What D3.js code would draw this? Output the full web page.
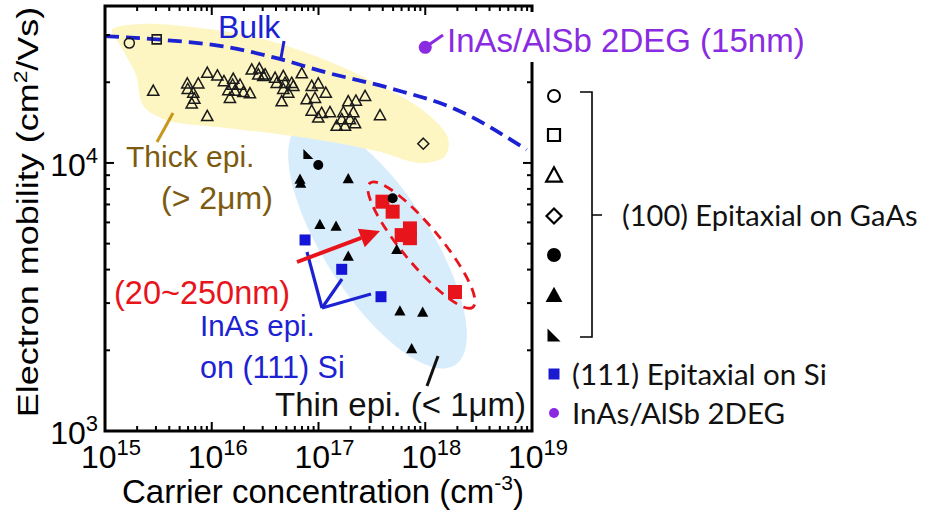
<!DOCTYPE html>
<html>
<head>
<meta charset="utf-8">
<script src="https://cdn.jsdelivr.net/npm/d3@7"></script>
<style>
  html, body { margin: 0; padding: 0; background: #fff; }
  svg { display: block; }
</style>
</head>
<body>
<svg id="chart" width="935" height="514"></svg>
<script>
// ---- Data: [carrier concentration (cm^-3), electron mobility (cm^2/Vs)] ----

// Thick epitaxial layers (> 2 um) on (100) GaAs
const openCircle  = [[1.69e15, 2.80e4]];
const openSquare  = [[3.05e15, 2.89e4]];
const openDiamond = [[9.59e17, 1.18e4]];
const openTriangles = [
  [2.83e15, 1.85e4], [9.08e15, 2.16e4], [1.13e16, 2.11e4], [5.90e15, 1.97e4],
  [7.48e15, 1.97e4], [5.96e15, 1.88e4], [6.71e15, 1.82e4], [6.87e15, 1.73e4],
  [6.49e15, 1.66e4], [9.08e15, 1.49e4], [1.30e16, 2.01e4], [1.59e16, 2.05e4],
  [1.57e16, 1.95e4], [1.84e16, 1.95e4], [1.43e16, 1.86e4], [1.65e16, 1.85e4],
  [1.48e16, 1.74e4], [1.98e16, 1.83e4], [2.28e16, 1.81e4], [2.37e16, 2.22e4],
  [2.79e16, 2.24e4], [3.04e16, 2.10e4], [2.73e16, 2.13e4], [3.16e16, 2.13e4],
  [3.92e16, 2.07e4], [4.68e16, 2.10e4], [6.97e16, 2.15e4], [4.06e16, 1.98e4],
  [4.85e16, 1.98e4], [5.61e16, 1.98e4], [4.68e16, 1.88e4], [5.21e16, 1.82e4],
  [4.52e16, 1.69e4], [5.81e16, 1.93e4], [8.63e16, 1.93e4], [9.95e16, 1.97e4],
  [1.17e17, 1.82e4], [7.74e16, 1.72e4], [9.27e16, 1.74e4], [8.63e16, 1.56e4],
  [1.07e17, 1.53e4], [9.95e16, 1.47e4], [1.28e17, 1.54e4], [1.71e17, 1.54e4],
  [2.12e17, 1.54e4], [1.90e17, 1.69e4], [2.24e17, 1.70e4], [2.73e17, 1.77e4],
  [1.65e17, 1.45e4], [1.97e17, 1.45e4], [1.48e17, 1.37e4], [1.77e17, 1.37e4],
  [2.20e17, 1.40e4], [3.77e17, 1.50e4]
];

// Thin epitaxial layers (< 1 um) on (100) GaAs
const filledCircles   = [[9.95e16, 9.83e3], [4.95e17, 7.38e3]];
const filledCorner    = [[8.04e16, 1.08e4]];
const filledTriangles = [
  [6.71e16, 8.65e3], [6.81e16, 8.36e3], [1.90e17, 8.69e3], [1.03e17, 5.87e3],
  [1.46e17, 5.78e3], [5.41e17, 4.73e3], [1.90e17, 4.47e3], [5.79e17, 2.79e3],
  [9.46e17, 2.76e3], [7.46e17, 2.02e3]
];

// InAs on (111) Si
const siSquares  = [[7.48e16, 5.16e3], [1.65e17, 4.01e3], [3.85e17, 3.17e3]];
// InAs on (111) Si, 20~250 nm
const redSquares = [
  [3.97e17, 7.17e3], [4.95e17, 6.58e3], [7.19e17, 5.70e3],
  [7.19e17, 5.24e3], [6.01e17, 5.38e3], [1.90e18, 3.30e3]
];
// InAs/AlSb 2DEG (15 nm)
const twoDeg = [[1.0e18, 2.7e4]];

// Bulk InAs mobility curve
const bulkConc     = [1.0e15, 3.05e15, 1.28e16, 4.06e16, 1.11e17, 4.68e17, 1.97e18, 8.9e18];
const bulkMobility = [2.97e4, 2.89e4, 2.72e4, 2.46e4, 2.19e4, 1.90e4, 1.58e4, 1.12e4];

// Shaded regions
const thickRegion = [
  [1.16e15, 3.13e4], [2.13e15, 3.30e4], [7.76e15, 3.19e4], [2.83e16, 2.92e4],
  [1.03e17, 2.47e4], [3.77e17, 1.95e4], [9.95e17, 1.55e4], [1.63e18, 1.24e4],
  [1.53e18, 1.06e4], [8.93e17, 1.00e4], [3.77e17, 1.10e4], [1.28e17, 1.20e4],
  [4.36e16, 1.28e4], [1.19e16, 1.36e4], [3.65e15, 1.45e4], [2.27e15, 1.64e4],
  [1.95e15, 2.13e4], [1.38e15, 2.75e4]
];
const thinRegionEnds = [[6.71e16, 1.39e4], [1.90e18, 1.76e3]];
const thinSiEnds     = [[3.03e17, 8.41e3], [2.80e18, 2.90e3]];

// Axes
const xDecades = [15, 16, 17, 18, 19];
const yDecades = [3, 4];

// Legend
const legendGaAs = ["openCircle", "openSquare", "openTriangle", "openDiamond",
                    "filledCircle", "filledTriangle", "filledCorner"];
const legendLabels = ["(100) Epitaxial on GaAs", "(111) Epitaxial on Si", "InAs/AlSb 2DEG"];

// ---- Drawing ----
const svg = d3.select("#chart");
const L = 105, R = 532, T = 6, B = 431;
const x = d3.scaleLog().domain([1e15, 1e19]).range([L, R]);
const y = d3.scaleLog().domain([1e3, 3.85e4]).range([B, T]);

const FONT = "'Liberation Sans', Arial, Helvetica, sans-serif";
const LFONT = "Lato, 'Open Sans', sans-serif";
const BLUE = "#1c22d2", RED = "#e8141c", PURPLE = "#8a2be2", GOLD = "#7c5b10";

// shaped markers centred at 0,0
const shapes = {
  triangle: s => `M0,${-s * 0.62}L${s * 0.56},${s * 0.4}L${-s * 0.56},${s * 0.4}Z`,
  corner:   s => `M${-s / 2},${-s / 2}L${-s / 2},${s / 2}L${s / 2},${s / 2}Z`,
  diamond:  s => `M0,${-s / 2}L${s / 2},0L0,${s / 2}L${-s / 2},0Z`,
  square:   s => `M${-s / 2},${-s / 2}h${s}v${s}h${-s}Z`,
  circle:   s => d3.arc()({innerRadius: 0, outerRadius: s / 2, startAngle: 0, endAngle: 2 * Math.PI})
};

// ellipse through two tip points, with a given half-width in pixels
function ellipseBetween(p1, p2, halfWidth) {
  const x1 = x(p1[0]), y1 = y(p1[1]), x2 = x(p2[0]), y2 = y(p2[1]);
  const cx = (x1 + x2) / 2, cy = (y1 + y2) / 2;
  const rx = Math.hypot(x2 - x1, y2 - y1) / 2;
  const ang = Math.atan2(y2 - y1, x2 - x1) * 180 / Math.PI;
  return {cx, cy, rx, ry: halfWidth, ang};
}

// thin-film region (light blue)
const thin = ellipseBetween(thinRegionEnds[0], thinRegionEnds[1], 53);
svg.append("ellipse")
  .attr("cx", thin.cx).attr("cy", thin.cy).attr("rx", thin.rx).attr("ry", thin.ry)
  .attr("transform", `rotate(${thin.ang},${thin.cx},${thin.cy})`)
  .attr("fill", "#d8edfb");

// thick-film region (light yellow)
svg.append("path")
  .datum(thickRegion)
  .attr("d", d3.line().x(d => x(d[0])).y(d => y(d[1])).curve(d3.curveCatmullRomClosed.alpha(0.5)))
  .attr("fill", "#fdf5c2");

// bulk curve
svg.append("path")
  .datum(bulkConc.map((c, i) => [c, bulkMobility[i]]))
  .attr("d", d3.line().x(d => x(d[0])).y(d => y(d[1])).curve(d3.curveMonotoneX))
  .attr("fill", "none").attr("stroke", BLUE).attr("stroke-width", 3.8)
  .attr("stroke-dasharray", "14,7");

// red dashed ellipse around the 20~250 nm samples
const thinSi = ellipseBetween(thinSiEnds[0], thinSiEnds[1], 19);
svg.append("ellipse")
  .attr("cx", thinSi.cx).attr("cy", thinSi.cy).attr("rx", thinSi.rx).attr("ry", thinSi.ry)
  .attr("transform", `rotate(${thinSi.ang},${thinSi.cx},${thinSi.cy})`)
  .attr("fill", "none").attr("stroke", RED).attr("stroke-width", 2.8)
  .attr("stroke-dasharray", "10,7");

function plotMarkers(data, shape, size, fill, stroke, sw) {
  svg.append("g").selectAll("path").data(data).join("path")
    .attr("transform", d => `translate(${x(d[0])},${y(d[1])})`)
    .attr("d", shapes[shape](size))
    .attr("fill", fill).attr("stroke", stroke).attr("stroke-width", sw);
}

plotMarkers(openTriangles, "triangle", 10, "none", "#1a1a1a", 1.5);
plotMarkers(openCircle, "circle", 10, "none", "#1a1a1a", 1.5);
plotMarkers(openSquare, "square", 9, "none", "#1a1a1a", 1.6);
plotMarkers(openDiamond, "diamond", 11, "none", "#1a1a1a", 1.5);
plotMarkers(filledTriangles, "triangle", 10, "#000", "none", 0);
plotMarkers(filledCorner, "corner", 10, "#000", "none", 0);
plotMarkers(redSquares, "square", 14, RED, "none", 0);
plotMarkers(filledCircles, "circle", 10, "#000", "none", 0);
plotMarkers(siSquares, "square", 11, "#1515d8", "none", 0);

// pointer lines
function seg(x1, y1, x2, y2, color, w) {
  svg.append("line").attr("x1", x1).attr("y1", y1).attr("x2", x2).attr("y2", y2)
    .attr("stroke", color).attr("stroke-width", w);
}
seg(284, 41, 281, 58, BLUE, 3);          // Bulk
seg(173, 113, 157, 142, "#c9961c", 3);   // Thick epi.
seg(438, 356, 427, 386, "#111", 3);      // Thin epi.
// InAs epi. on (111) Si
seg(322, 308, 307, 252, BLUE, 3.2);
seg(322, 308, 342, 279, BLUE, 3.2);
seg(322, 308, 371, 294, BLUE, 3.2);

// red arrow
(function () {
  const x1 = 297, y1 = 262, x2 = 380, y2 = 231;
  const len = Math.hypot(x2 - x1, y2 - y1), ux = (x2 - x1) / len, uy = (y2 - y1) / len;
  const hl = 20, hw = 10;
  seg(x1, y1, x2 - ux * hl, y2 - uy * hl, RED, 4);
  const bx = x2 - ux * hl, by = y2 - uy * hl;
  svg.append("path")
    .attr("d", `M${x2},${y2}L${bx - uy * hw},${by + ux * hw}L${bx + uy * hw},${by - ux * hw}Z`)
    .attr("fill", RED);
})();

// ---- frame and ticks ----
const frame = svg.append("g").attr("stroke", "#000");
const xTicks = [], yTicks = [];
xDecades.forEach(k => { for (let m = 1; m <= 9; m++) { const v = m * 10 ** k; if (v <= 1e19) xTicks.push([v, m === 1]); } });
yDecades.forEach(k => { for (let m = 1; m <= 9; m++) { const v = m * 10 ** k; if (v <= 3.85e4) yTicks.push([v, m === 1]); } });
xTicks.forEach(([v, major]) => {
  const px = x(v), len = major ? 9 : 5;
  frame.append("line").attr("x1", px).attr("x2", px).attr("y1", B).attr("y2", B - len).attr("stroke-width", 2);
  frame.append("line").attr("x1", px).attr("x2", px).attr("y1", T).attr("y2", T + len).attr("stroke-width", 2);
});
yTicks.forEach(([v, major]) => {
  const py = y(v), len = major ? 9 : 5;
  frame.append("line").attr("y1", py).attr("y2", py).attr("x1", L).attr("x2", L + len).attr("stroke-width", 2);
  frame.append("line").attr("y1", py).attr("y2", py).attr("x1", R).attr("x2", R - len).attr("stroke-width", 2);
});
frame.append("rect").attr("x", L).attr("y", T).attr("width", R - L).attr("height", B - T)
  .attr("fill", "none").attr("stroke-width", 3);

// tick labels
function powerLabel(g, px, py, exp, anchor) {
  const t = g.append("text").attr("x", px).attr("y", py).attr("text-anchor", anchor)
    .attr("font-family", FONT).attr("font-size", 32).attr("fill", "#000");
  t.append("tspan").text("10");
  t.append("tspan").attr("dy", -13).attr("font-size", 22).text(exp);
}
const labels = svg.append("g");
xDecades.forEach(k => powerLabel(labels, x(10 ** k) + 6, 468, k, "middle"));
yDecades.forEach(k => powerLabel(labels, 98, y(10 ** k) + 13, k, "end"));

// axis titles
const xt = svg.append("text").attr("x", 323).attr("y", 503).attr("text-anchor", "middle")
  .attr("font-family", FONT).attr("font-size", 33);
xt.append("tspan").text("Carrier concentration (cm");
xt.append("tspan").attr("dy", -13).attr("font-size", 21).text("-3");
xt.append("tspan").attr("dy", 13).text(")");

const yt = svg.append("text").attr("transform", "translate(38,212) rotate(-90) scale(1.2,1)")
  .attr("text-anchor", "middle").attr("font-family", FONT).attr("font-size", 30);
yt.append("tspan").text("Electron mobility (cm");
yt.append("tspan").attr("dy", -11).attr("font-size", 19).text("2");
yt.append("tspan").attr("dy", 11).text("/Vs)");

// ---- annotations ----
function label(txt, px, py, size, color) {
  return svg.append("text").attr("x", px).attr("y", py).attr("font-family", FONT)
    .attr("font-size", size).attr("fill", color).text(txt);
}
label("Bulk", 218, 38, 32, BLUE);
label("Thick epi.", 126, 167, 30, GOLD);
label("(> 2μm)", 161, 209, 32, GOLD);
label("(20~250nm)", 114, 304, 32.5, RED);
label("InAs epi.", 200, 336, 29.5, BLUE);
label("on (111) Si", 200, 378, 30.5, BLUE);
label("Thin epi. (< 1μm)", 275, 416, 33, "#111");

// 2DEG point and its label (on a white backing that interrupts the frame)
svg.append("rect").attr("x", 438).attr("y", 12).attr("width", 380).attr("height", 50).attr("fill", "#fff");
seg(x(twoDeg[0][0]), y(twoDeg[0][1]), 443, 35, PURPLE, 3);
plotMarkers(twoDeg, "circle", 13, PURPLE, "none", 0);
label("InAs/AlSb 2DEG (15nm)", 447, 52, 33, PURPLE);

// ---- legend ----
const lg = svg.append("g");
const lx = 554, ly = [96, 135, 176, 216, 255, 296, 335];
const legendStyle = {
  openCircle:     ["circle", 12, "none", "#000", 2],
  openSquare:     ["square", 12, "none", "#000", 2.2],
  openTriangle:   ["triangle", 14, "none", "#000", 2.2],
  openDiamond:    ["diamond", 15, "none", "#000", 2.2],
  filledCircle:   ["circle", 14, "#000", "none", 0],
  filledTriangle: ["triangle", 15, "#000", "none", 0],
  filledCorner:   ["corner", 13, "#000", "none", 0]
};
legendGaAs.forEach((k, i) => {
  const [sh, s, f, st, sw] = legendStyle[k];
  lg.append("path").attr("transform", `translate(${lx},${ly[i]})`).attr("d", shapes[sh](s))
    .attr("fill", f).attr("stroke", st).attr("stroke-width", sw);
});
lg.append("path").attr("d", "M580,92H592V337H580M592,215H602")
  .attr("fill", "none").attr("stroke", "#000").attr("stroke-width", 1.6);
lg.append("path").attr("transform", `translate(${lx},374)`).attr("d", shapes.square(11)).attr("fill", "#1a1ad0");
lg.append("path").attr("transform", `translate(${lx},413)`).attr("d", shapes.circle(10)).attr("fill", PURPLE);

function legendText(txt, px, py, size) {
  lg.append("text").attr("x", px).attr("y", py).attr("font-family", LFONT).attr("font-size", size)
    .attr("fill", "#111").text(txt);
}
legendText(legendLabels[0], 622, 226, 29);
legendText(legendLabels[1], 572, 385, 29.5);
legendText(legendLabels[2], 572, 424, 29.5);
</script>
</body>
</html>
